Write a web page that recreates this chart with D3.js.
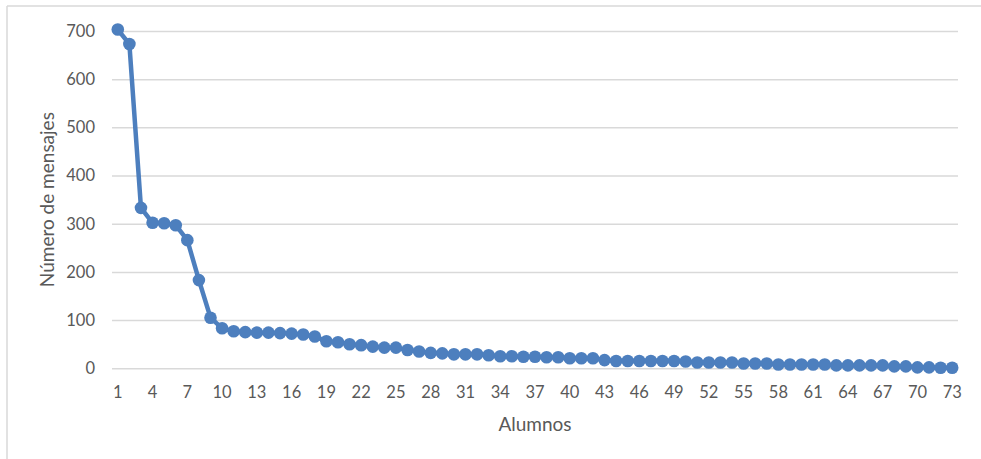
<!DOCTYPE html>
<html>
<head>
<meta charset="utf-8">
<script src="https://cdn.jsdelivr.net/npm/d3@7"></script>
<style>
  html, body { margin: 0; padding: 0; background: #fff; }
  svg { display: block; }
  text { font-family: Lato, "Open Sans", sans-serif; fill: #595959; }
</style>
</head>
<body>
<svg id="chart" width="981" height="459"></svg>
<script>
// Messages sent per student, sorted from most to least active
const alumnos = d3.range(1, 74);
const mensajes = [
  703, 673, 333, 302, 301, 297, 266, 183, 105, 83,
  77, 75, 74, 74, 73, 72, 70, 66, 56, 54,
  50, 48, 45, 43, 43, 38, 35, 32, 31, 29,
  29, 29, 27, 25, 25, 24, 24, 23, 23, 21,
  21, 21, 17, 15, 15, 15, 15, 15, 15, 14,
  12, 12, 12, 12, 10, 10, 10, 8, 8, 8,
  8, 8, 6, 6, 6, 6, 6, 4, 4, 2,
  2, 1, 1
];
const yTicks = [0, 100, 200, 300, 400, 500, 600, 700];
const xTickLabels = alumnos.filter(a => (a - 1) % 3 === 0);
const yTitle = "Número de mensajes";
const xTitle = "Alumnos";

const svg = d3.select("#chart");
const plot = { left: 112, right: 958, top: 31, bottom: 368.3 };

// chart-area frame (top and left edges visible)
svg.append("line").attr("x1", 7).attr("x2", 981).attr("y1", 6).attr("y2", 6)
  .attr("stroke", "#d9d9d9").attr("stroke-width", 1.5);
svg.append("line").attr("x1", 7).attr("x2", 7).attr("y1", 6).attr("y2", 459)
  .attr("stroke", "#d9d9d9").attr("stroke-width", 1.5);

const x = d3.scaleBand().domain(alumnos).range([plot.left, plot.right]);
const y = d3.scaleLinear().domain([0, 700]).range([plot.bottom, plot.top]);
const cx = a => x(a) + x.bandwidth() / 2;

// horizontal gridlines + value labels
const yAxis = d3.axisLeft(y).tickValues(yTicks)
  .tickSize(-(plot.right - plot.left)).tickPadding(17);
const gy = svg.append("g").attr("transform", `translate(${plot.left},0)`).call(yAxis);
gy.select(".domain").remove();
gy.selectAll(".tick line").attr("stroke", "#d9d9d9").attr("stroke-width", 1.5);
gy.selectAll(".tick text").attr("font-size", 16.5).attr("fill", "#595959")
  .style("font-family", "Lato, 'Open Sans', sans-serif");

// category axis labels (every third student)
const xAxis = d3.axisBottom(x).tickValues(xTickLabels).tickSize(0).tickPadding(18);
const gx = svg.append("g").attr("transform", `translate(0,${plot.bottom})`).call(xAxis);
gx.select(".domain").remove();
gx.selectAll(".tick text").attr("font-size", 16.5).attr("fill", "#595959")
  .style("font-family", "Lato, 'Open Sans', sans-serif");

// axis titles
svg.append("text").attr("transform", `translate(54,${(plot.top + plot.bottom) / 2}) rotate(-90)`)
  .attr("text-anchor", "middle").attr("font-size", 19).text(yTitle);
svg.append("text").attr("x", (plot.left + plot.right) / 2).attr("y", 431)
  .attr("text-anchor", "middle").attr("font-size", 19).text(xTitle);

// series line and markers
const data = alumnos.map((a, i) => ({ a, v: mensajes[i] }));
const color = "#4d7fbe";
svg.append("path").datum(data)
  .attr("fill", "none").attr("stroke", color).attr("stroke-width", 4.5)
  .attr("stroke-linejoin", "round")
  .attr("d", d3.line().x(d => cx(d.a)).y(d => y(d.v)));
svg.append("g").selectAll("circle").data(data).join("circle")
  .attr("cx", d => cx(d.a)).attr("cy", d => y(d.v)).attr("r", 6.3)
  .attr("fill", color);
</script>
</body>
</html>
